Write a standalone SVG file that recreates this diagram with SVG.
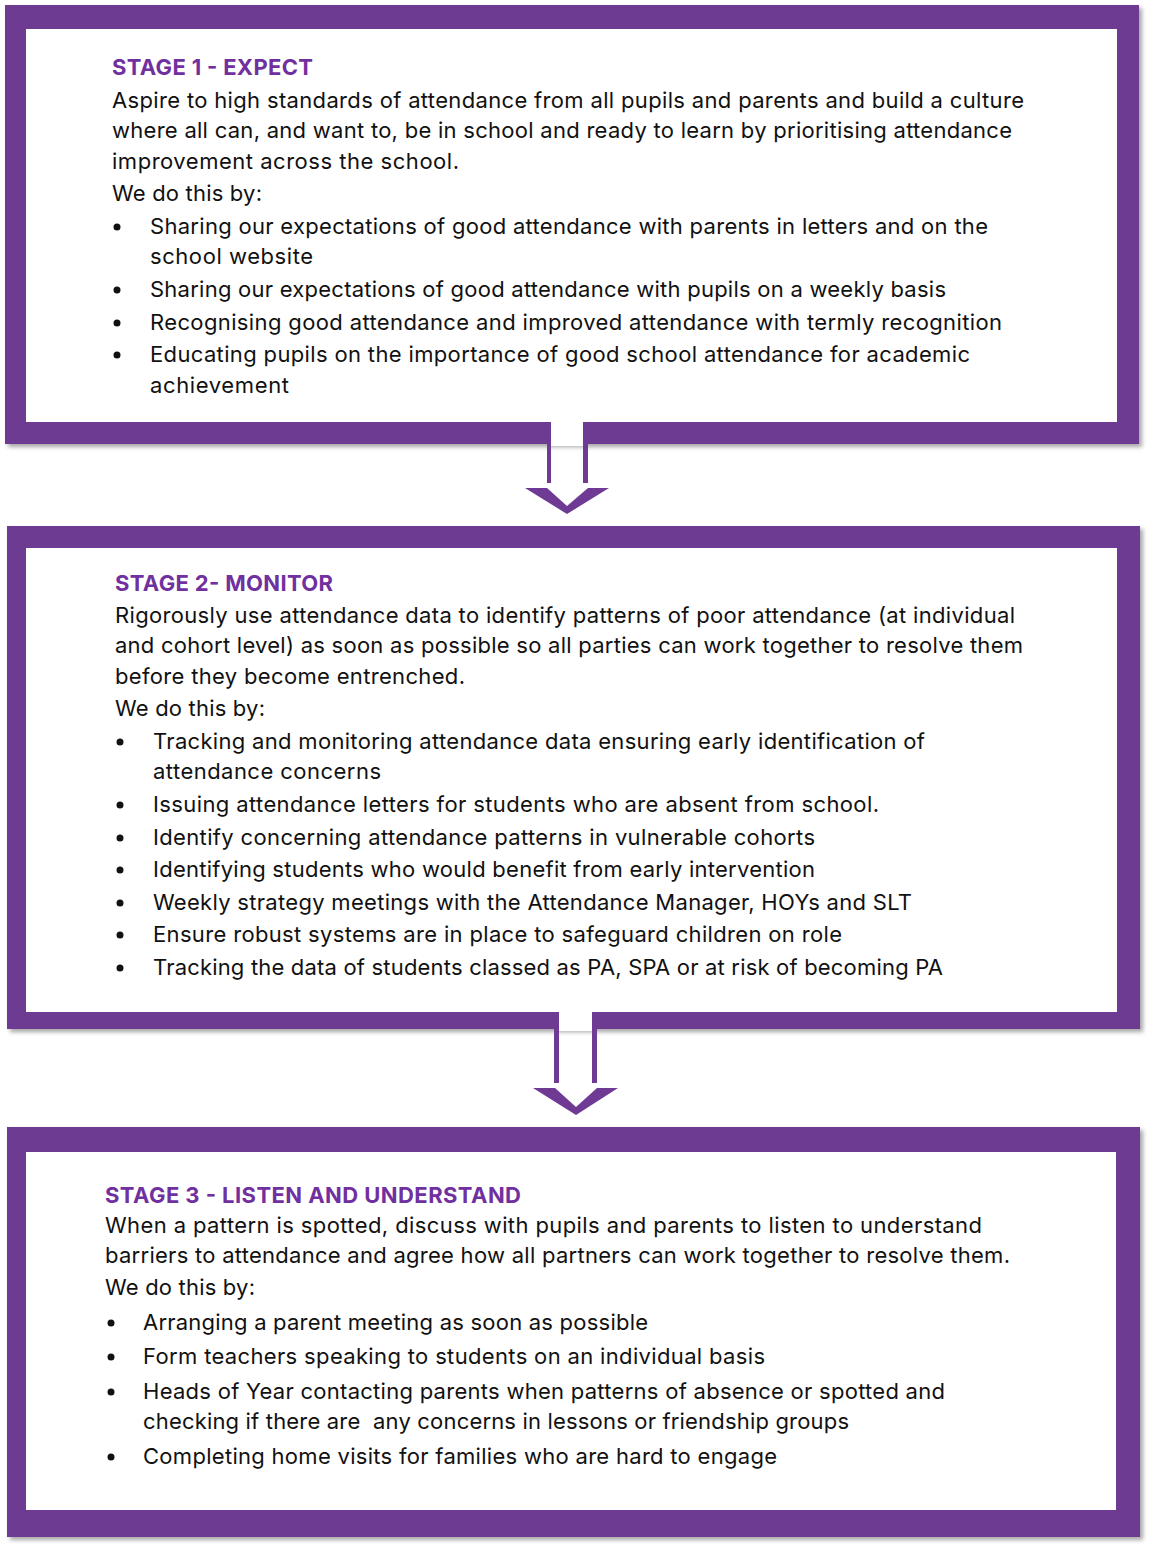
<svg xmlns="http://www.w3.org/2000/svg" width="1154" height="1551" viewBox="0 0 1154 1551">
<defs>
<filter id="sh" x="-5%" y="-5%" width="110%" height="110%">
<feDropShadow dx="3" dy="3" stdDeviation="2" flood-color="#000" flood-opacity="0.35"/>
</filter>
</defs>
<style>
.frame{fill:#6E3A93;filter:url(#sh)}
.inner{fill:#fff}
.t{font-family:Inter,"Liberation Sans",sans-serif;font-size:22px;fill:#111}
.h{font-family:Inter,"Liberation Sans",sans-serif;font-size:22px;font-weight:700;fill:#7030A0}
.dot{fill:#111}
.arr{fill:#6E3A93}
</style>
<rect width="1154" height="1551" fill="#fff"/>
<g id="stage1">
<rect class="frame" x="5" y="5" width="1134" height="439"/>
<rect class="inner" x="26" y="29" width="1091" height="393"/>
<text class="h" x="112" y="75" textLength="201" lengthAdjust="spacing">STAGE 1 - EXPECT</text>
<text class="t" x="112" y="108" textLength="912" lengthAdjust="spacing">Aspire to high standards of attendance from all pupils and parents and build a culture</text>
<text class="t" x="112" y="138" textLength="900" lengthAdjust="spacing">where all can, and want to, be in school and ready to learn by prioritising attendance</text>
<text class="t" x="112" y="169" textLength="347" lengthAdjust="spacing">improvement across the school.</text>
<text class="t" x="112" y="201" textLength="150" lengthAdjust="spacing">We do this by:</text>
<circle class="dot" cx="117" cy="227" r="3.5"/>
<text class="t" x="150" y="234" textLength="838" lengthAdjust="spacing">Sharing our expectations of good attendance with parents in letters and on the</text>
<text class="t" x="150" y="264" textLength="163" lengthAdjust="spacing">school website</text>
<circle class="dot" cx="117" cy="290" r="3.5"/>
<text class="t" x="150" y="297" textLength="796" lengthAdjust="spacing">Sharing our expectations of good attendance with pupils on a weekly basis</text>
<circle class="dot" cx="117" cy="323" r="3.5"/>
<text class="t" x="150" y="330" textLength="852" lengthAdjust="spacing">Recognising good attendance and improved attendance with termly recognition</text>
<circle class="dot" cx="117" cy="355" r="3.5"/>
<text class="t" x="150" y="362" textLength="820" lengthAdjust="spacing">Educating pupils on the importance of good school attendance for academic</text>
<text class="t" x="150" y="393" textLength="139" lengthAdjust="spacing">achievement</text>
</g>
<g id="stage2">
<rect class="frame" x="7" y="526" width="1133" height="503"/>
<rect class="inner" x="26" y="548" width="1091" height="464"/>
<text class="h" x="115" y="591" textLength="218" lengthAdjust="spacing">STAGE 2- MONITOR</text>
<text class="t" x="115" y="623" textLength="900" lengthAdjust="spacing">Rigorously use attendance data to identify patterns of poor attendance (at individual</text>
<text class="t" x="115" y="653" textLength="908" lengthAdjust="spacing">and cohort level) as soon as possible so all parties can work together to resolve them</text>
<text class="t" x="115" y="684" textLength="350" lengthAdjust="spacing">before they become entrenched.</text>
<text class="t" x="115" y="716" textLength="150" lengthAdjust="spacing">We do this by:</text>
<circle class="dot" cx="120" cy="742" r="3.5"/>
<text class="t" x="153" y="749" textLength="772" lengthAdjust="spacing">Tracking and monitoring attendance data ensuring early identification of</text>
<text class="t" x="153" y="779" textLength="228" lengthAdjust="spacing">attendance concerns</text>
<circle class="dot" cx="120" cy="805" r="3.5"/>
<text class="t" x="153" y="812" textLength="726" lengthAdjust="spacing">Issuing attendance letters for students who are absent from school.</text>
<circle class="dot" cx="120" cy="838" r="3.5"/>
<text class="t" x="153" y="845" textLength="662" lengthAdjust="spacing">Identify concerning attendance patterns in vulnerable cohorts</text>
<circle class="dot" cx="120" cy="870" r="3.5"/>
<text class="t" x="153" y="877" textLength="662" lengthAdjust="spacing">Identifying students who would benefit from early intervention</text>
<circle class="dot" cx="120" cy="903" r="3.5"/>
<text class="t" x="153" y="910" textLength="759" lengthAdjust="spacing">Weekly strategy meetings with the Attendance Manager, HOYs and SLT</text>
<circle class="dot" cx="120" cy="935" r="3.5"/>
<text class="t" x="153" y="942" textLength="689" lengthAdjust="spacing">Ensure robust systems are in place to safeguard children on role</text>
<circle class="dot" cx="120" cy="968" r="3.5"/>
<text class="t" x="153" y="975" textLength="790" lengthAdjust="spacing">Tracking the data of students classed as PA, SPA or at risk of becoming PA</text>
</g>
<g id="stage3">
<rect class="frame" x="7" y="1127" width="1133" height="410"/>
<rect class="inner" x="26" y="1152" width="1090" height="358"/>
<text class="h" x="105" y="1203" textLength="416" lengthAdjust="spacing">STAGE 3 - LISTEN AND UNDERSTAND</text>
<text class="t" x="105" y="1233" textLength="877" lengthAdjust="spacing">When a pattern is spotted, discuss with pupils and parents to listen to understand</text>
<text class="t" x="105" y="1263" textLength="905" lengthAdjust="spacing">barriers to attendance and agree how all partners can work together to resolve them.</text>
<text class="t" x="105" y="1295" textLength="150" lengthAdjust="spacing">We do this by:</text>
<circle class="dot" cx="111" cy="1323" r="3.5"/>
<text class="t" x="143" y="1330" textLength="505" lengthAdjust="spacing">Arranging a parent meeting as soon as possible</text>
<circle class="dot" cx="111" cy="1357" r="3.5"/>
<text class="t" x="143" y="1364" textLength="622" lengthAdjust="spacing">Form teachers speaking to students on an individual basis</text>
<circle class="dot" cx="111" cy="1392" r="3.5"/>
<text class="t" x="143" y="1399" textLength="802" lengthAdjust="spacing">Heads of Year contacting parents when patterns of absence or spotted and</text>
<text class="t" x="143" y="1429" textLength="706" lengthAdjust="spacing" xml:space="preserve">checking if there are  any concerns in lessons or friendship groups</text>
<circle class="dot" cx="111" cy="1457" r="3.5"/>
<text class="t" x="143" y="1464" textLength="634" lengthAdjust="spacing">Completing home visits for families who are hard to engage</text>
</g>
<g id="connectors">
<rect x="551" y="420" width="32" height="26" fill="#fff"/>
<rect class="arr" x="547" y="422" width="4" height="61"/>
<rect class="arr" x="583" y="422" width="5" height="61"/>
<polygon class="arr" points="525,488 547,488 567,506 588,488 609,488 567,514"/>
<rect x="559" y="1010" width="33" height="21" fill="#fff"/>
<rect class="arr" x="554" y="1012" width="5" height="71"/>
<rect class="arr" x="592" y="1012" width="5" height="71"/>
<polygon class="arr" points="533,1088 555,1088 576,1107 597,1088 618,1088 576,1115"/>
</g>
</svg>
